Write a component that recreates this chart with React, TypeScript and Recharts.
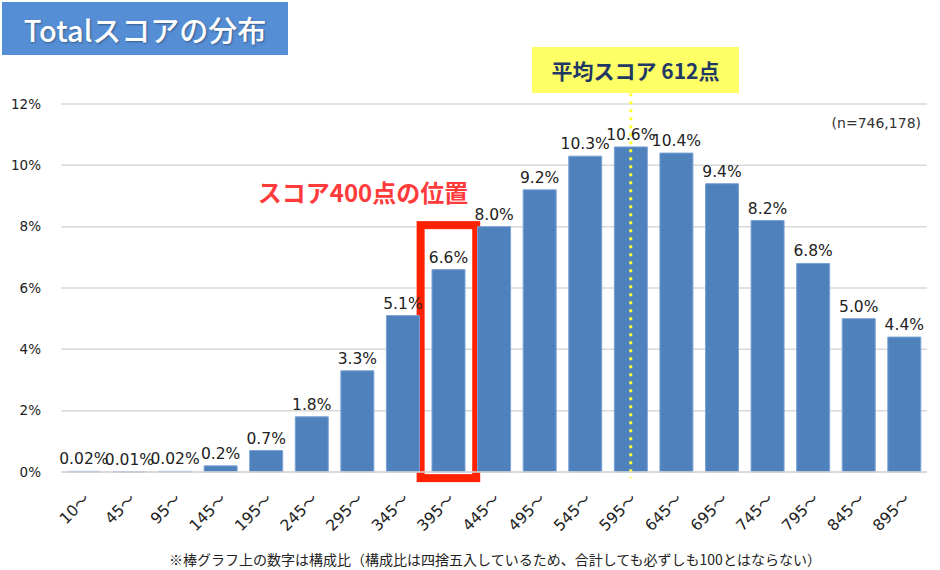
import React from 'react';
import { BarChart, Bar, XAxis, YAxis, CartesianGrid, LabelList, ReferenceArea, ReferenceLine } from 'recharts';

const categories = ['10～', '45～', '95～', '145～', '195～', '245～', '295～', '345～', '395～', '445～', '495～', '545～', '595～', '645～', '695～', '745～', '795～', '845～', '895～'];
const shares = [0.02, 0.01, 0.02, 0.2, 0.7, 1.8, 3.3, 5.1, 6.6, 8.0, 9.2, 10.3, 10.6, 10.4, 9.4, 8.2, 6.8, 5.0, 4.4];
const shareLabels = ['0.02%', '0.01%', '0.02%', '0.2%', '0.7%', '1.8%', '3.3%', '5.1%', '6.6%', '8.0%', '9.2%', '10.3%', '10.6%', '10.4%', '9.4%', '8.2%', '6.8%', '5.0%', '4.4%'];
const yTicks = [0, 2, 4, 6, 8, 10, 12];

const data = categories.map((c, i) => ({ cat: c, value: shares[i], label: shareLabels[i] }));

const FONT = '"Noto Sans CJK JP", "Noto Sans", sans-serif';
const NUMFONT = '"DejaVu Sans", "Noto Sans CJK JP", sans-serif';

const XTick = (props: any) => {
  const { x, y, payload } = props;
  return (
    <g transform={`translate(${x + 7},${y + 20})`}>
      <text x={0} y={0} textAnchor="end" transform="rotate(-45)" fill="#222" fontSize={15.5} fontFamily={NUMFONT}>
        {payload.value}
      </text>
    </g>
  );
};

const RedBox = (props: any) => {
  const { x, y, width, height } = props;
  const pad = 5;
  return (
    <rect x={x - pad} y={y} width={width + pad * 2} height={height} fill="none" stroke="#ff2200" strokeWidth={8} />
  );
};

export default function App() {
  return (
    <div style={{ position: 'absolute', left: 0, top: 0, width: 940, height: 570, background: '#fff', fontFamily: FONT }}>
      <BarChart width={940} height={570} data={data} margin={{ top: 104, right: 13, bottom: 68, left: 0 }} barCategoryGap="14%">
        <CartesianGrid vertical={false} stroke="#d9d9d9" strokeWidth={1.5} />
        <XAxis dataKey="cat" height={30} tick={<XTick />} tickLine={false} axisLine={{ stroke: '#d9d9d9', strokeWidth: 1.5 }} interval={0} />
        <YAxis width={61} domain={[0, 12]} ticks={yTicks} tickFormatter={(v: number) => `${v}%`} tickLine={false} axisLine={false} tick={{ fill: '#222', fontSize: 13.5, fontFamily: NUMFONT }} tickMargin={14} />
        <Bar dataKey="value" fill="#4f81bd" stroke="#7aa3d6" strokeWidth={1} isAnimationActive={false}>
          <LabelList dataKey="label" position="top" offset={7} fill="#222" fontSize={15.5} fontFamily={NUMFONT} />
        </Bar>
        <ReferenceArea x1="395～" x2="395～" y1={-0.2} y2={8.05} ifOverflow="visible" shape={<RedBox />} />
        <ReferenceLine segment={[{ x: '595～', y: 12.35 }, { x: '595～', y: -0.2 }]} ifOverflow="visible" stroke="#ffff33" strokeWidth={3} strokeDasharray="3 5" />
      </BarChart>

      <div style={{ position: 'absolute', left: 2, top: 2, width: 286, height: 53, background: '#558ed5', color: '#fff', fontSize: 29, fontWeight: 500, display: 'flex', alignItems: 'center', justifyContent: 'center', textShadow: '1px 1px 2px rgba(0,0,0,0.35)', fontFamily: FONT }}>
        Totalスコアの分布
      </div>

      <div style={{ position: 'absolute', left: 532, top: 47, width: 207, height: 46, background: '#ffff66', color: '#1f3864', fontSize: 21, fontWeight: 700, display: 'flex', alignItems: 'center', justifyContent: 'center', fontFamily: FONT }}>
        平均スコア 612点
      </div>

      <div style={{ position: 'absolute', left: 240, top: 176, width: 246, textAlign: 'center', color: '#ff3b3b', fontSize: 24, fontWeight: 700, lineHeight: '32px', fontFamily: FONT }}>
        スコア400点の位置
      </div>

      <div style={{ position: 'absolute', left: 780, top: 113, width: 141, textAlign: 'right', color: '#333', fontSize: 14, lineHeight: '20px', fontFamily: NUMFONT }}>
        (n=746,178)
      </div>

      <div style={{ position: 'absolute', left: 0, top: 549, width: 990, textAlign: 'center', color: '#222', fontSize: 14, lineHeight: '20px', fontFamily: FONT }}>
        ※棒グラフ上の数字は構成比（構成比は四捨五入しているため、合計しても必ずしも100とはならない）
      </div>
    </div>
  );
}
